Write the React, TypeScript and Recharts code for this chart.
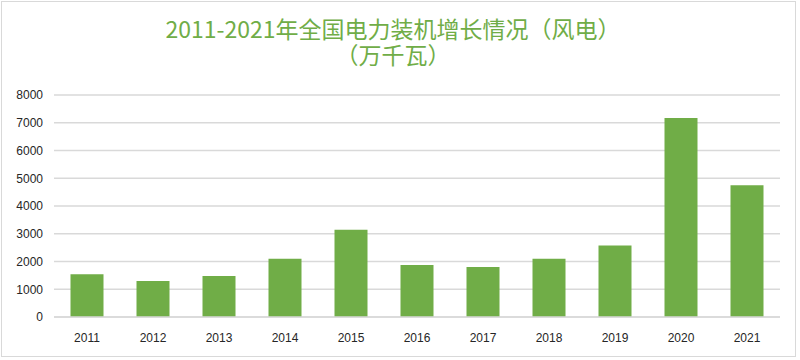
import { Bar, BarChart, CartesianGrid, XAxis, YAxis } from "recharts";

const years = ["2011", "2012", "2013", "2014", "2015", "2016", "2017", "2018", "2019", "2020", "2021"];
const windAdded = [1540, 1300, 1480, 2100, 3140, 1870, 1800, 2100, 2580, 7170, 4750];
const yTicks = [0, 1000, 2000, 3000, 4000, 5000, 6000, 7000, 8000];

const data = years.map((year, i) => ({ year, value: windAdded[i] }));

const green = "#70ad47";
const tickStyle = { fontSize: 12, fill: "#262626", fontFamily: "Arial, 'Liberation Sans', sans-serif" };
const titleStyle = {
  position: "absolute" as const,
  left: 0,
  width: 786,
  textAlign: "center" as const,
  color: green,
  fontFamily: "'Noto Sans CJK SC', sans-serif",
  fontSize: 23,
  lineHeight: "23px",
  whiteSpace: "nowrap" as const,
};

export default function App() {
  return (
    <div
      style={{
        position: "absolute",
        left: 0,
        top: 0,
        width: 800,
        height: 360,
        background: "#fff",
      }}
    >
      <div
        style={{
          position: "absolute",
          left: 1,
          top: 1,
          width: 795,
          height: 356,
          border: "1px solid #d9d9d9",
          boxSizing: "border-box",
        }}
      />
      <div style={{ ...titleStyle, top: 17 }}>2011-2021年全国电力装机增长情况（风电）</div>
      <div style={{ ...titleStyle, top: 43 }}>（万千瓦）</div>
      <div style={{ position: "absolute", left: 0, top: 0 }}>
        <BarChart
          width={800}
          height={360}
          data={data}
          margin={{ top: 95, right: 20, bottom: 0, left: 0 }}
          barCategoryGap="25%"
        >
          <CartesianGrid stroke="#d9d9d9" strokeWidth={1.5} vertical={false} />
          <XAxis
            dataKey="year"
            height={43}
            tickLine={false}
            axisLine={{ stroke: "#d9d9d9", strokeWidth: 1.5 }}
            tick={tickStyle}
            tickMargin={10}
            interval={0}
          />
          <YAxis
            width={54}
            domain={[0, 8000]}
            ticks={yTicks}
            tickLine={false}
            axisLine={false}
            tick={tickStyle}
            tickMargin={5}
          />
          <Bar dataKey="value" fill={green} isAnimationActive={false} />
        </BarChart>
      </div>
    </div>
  );
}
